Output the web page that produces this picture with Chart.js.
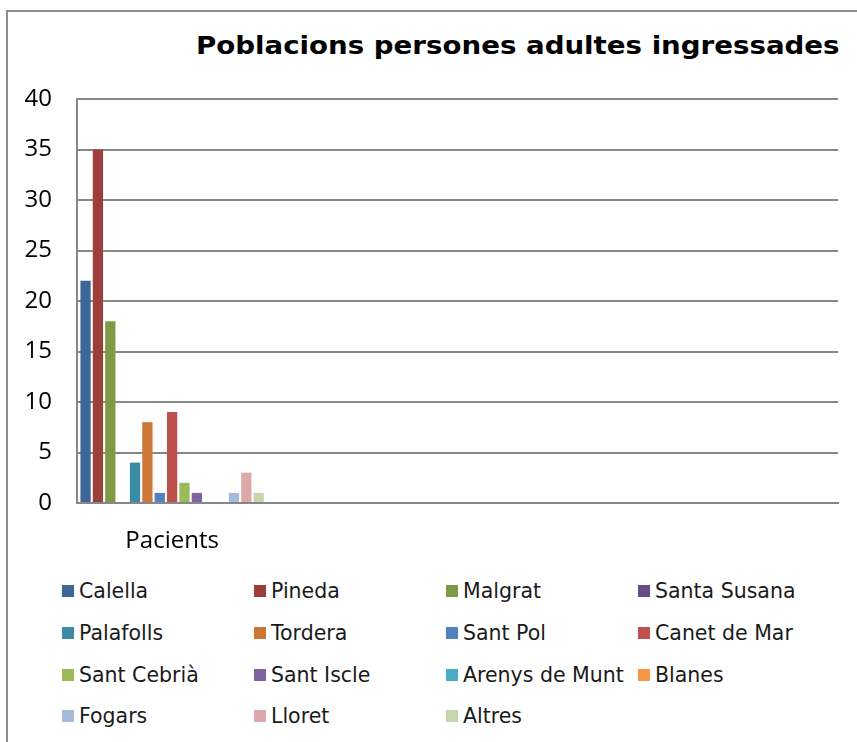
<!DOCTYPE html>
<html>
<head>
<meta charset="utf-8">
<script src="https://cdn.jsdelivr.net/npm/chart.js@4/dist/chart.umd.min.js"></script>
<style>
  html, body { margin: 0; padding: 0; background: #fff; }
  body { width: 857px; height: 742px; position: relative; overflow: hidden; }
  #frame {
    position: absolute; left: 6px; top: 10px; width: 900px; height: 800px;
    border-top: 2px solid #8d8d8d; border-left: 2px solid #8d8d8d;
  }
  #title {
    position: absolute; left: 196px; top: 31px; white-space: nowrap;
    font: bold 24px "DejaVu Sans"; color: #000; line-height: 30px;
    transform-origin: 0 0;
  }
  #wrap { position: absolute; left: 0; top: 0; width: 857px; height: 560px; }
  #legend {
    position: absolute; left: 62px; top: 578px;
    display: grid; grid-template-columns: repeat(4, 192px); grid-auto-rows: 41.8px;
    font: 20.5px "DejaVu Sans"; color: #1a1a1a;
  }
  .item { display: flex; align-items: center; height: 26px; white-space: nowrap; }
  .sw { width: 12px; height: 12px; margin-right: 5px; flex: none; }
</style>
</head>
<body>
<div id="frame"></div>
<div id="title">Poblacions persones adultes ingressades</div>
<div id="wrap"><canvas id="chart"></canvas></div>
<div id="legend"></div>
<script>
// categories (only the first one is labelled in the original)
var categories = ["Pacients", "", "", ""];

var towns = [
  "Calella", "Pineda", "Malgrat", "Santa Susana", "Palafolls", "Tordera",
  "Sant Pol", "Canet de Mar", "Sant Cebrià", "Sant Iscle", "Arenys de Munt",
  "Blanes", "Fogars", "Lloret", "Altres",
];

var patients = [22, 35, 18, 0, 4, 8, 1, 9, 2, 1, 0, 0, 1, 3, 1];

var colors = [
  "#3E6797", "#9C3E3C", "#7F9A44", "#674C87", "#3A8CA4", "#CC7733",
  "#4F81BD", "#C0504D", "#9BBB59", "#8064A2", "#4BACC6", "#F79646",
  "#A9BAD8", "#DBA9A8", "#C6D7AD",
];

var yTicks = [0, 5, 10, 15, 20, 25, 30, 35, 40];

var title = document.getElementById("title");
title.style.transform = "scaleX(" + (644 / title.offsetWidth) + ")";

var legend = document.getElementById("legend");
towns.map((town, i) => {
  var item = document.createElement("div");
  item.className = "item";
  var sw = document.createElement("span");
  sw.className = "sw";
  sw.style.background = colors[i];
  var label = document.createElement("span");
  label.textContent = town;
  item.appendChild(sw);
  item.appendChild(label);
  legend.appendChild(item);
});

var gridColor = "#878787";

var chart = new Chart(document.getElementById("chart"), {
  type: "bar",
  data: {
    labels: categories,
    datasets: towns.map((town, i) => ({
      label: town,
      data: [patients[i], null, null, null],
      backgroundColor: colors[i],
      borderWidth: 0,
      categoryPercentage: 0.975,
      barPercentage: 0.83,
    })),
  },
  options: {
    responsive: true,
    maintainAspectRatio: false,
    animation: false,
    layout: {
      padding: { top: 99, right: 19, left: 0, bottom: 0 },
    },
    scales: {
      x: {
        grid: { display: false, drawTicks: false },
        border: { display: true, color: gridColor, width: 2 },
        ticks: {
          color: "#000",
          font: { family: "Open Sans", size: 24 },
          padding: 24,
          maxRotation: 0,
          autoSkip: false,
        },
        afterFit: function (scale) {
          scale.height = 57;
        },
      },
      y: {
        min: 0,
        max: 40,
        afterBuildTicks: function (scale) {
          scale.ticks = yTicks.map((v) => ({ value: v }));
        },
        grid: { color: gridColor, lineWidth: 2, drawTicks: false },
        border: { display: true, color: gridColor, width: 2 },
        ticks: {
          color: "#000",
          font: { family: "Open Sans", size: 24 },
          padding: 25,
        },
        afterFit: function (scale) {
          scale.width = 77;
        },
      },
    },
    plugins: {
      legend: { display: false },
      title: { display: false },
      tooltip: { enabled: false },
    },
  },
});
</script>
</body>
</html>
